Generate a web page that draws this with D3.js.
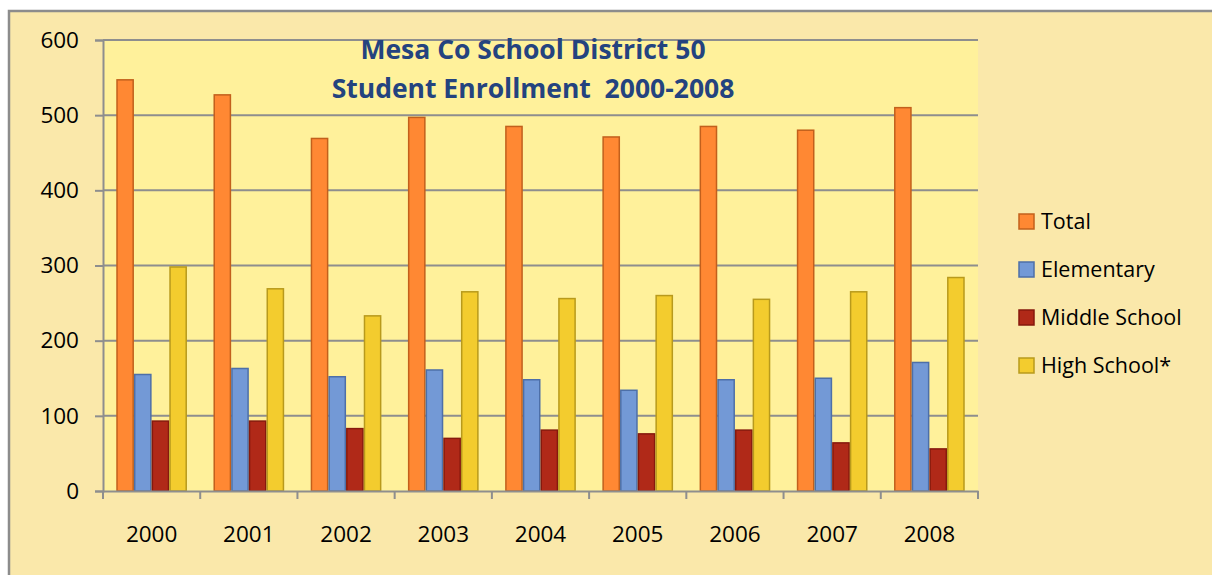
<!DOCTYPE html>
<html>
<head>
<meta charset="utf-8">
<script src="https://cdn.jsdelivr.net/npm/d3@7/dist/d3.min.js"></script>
<style>
  html, body { margin: 0; padding: 0; background: #ffffff; }
  svg { display: block; }
  text { font-family: "Open Sans", "DejaVu Sans", sans-serif; }
</style>
</head>
<body>
<svg id="chart" width="1212" height="575"></svg>
<script>
const years = ["2000","2001","2002","2003","2004","2005","2006","2007","2008"];
const seriesNames = ["Total","Elementary","Middle School","High School*"];
const total      = [547, 527, 469, 497, 485, 471, 485, 480, 510];
const elementary = [155, 163, 152, 161, 148, 134, 148, 150, 171];
const middle     = [93, 93, 83, 70, 81, 76, 81, 64, 56];
const high       = [298, 269, 233, 265, 256, 260, 255, 265, 284];
const yTicks = [0, 100, 200, 300, 400, 500, 600];
const titleLines = ["Mesa Co School District 50", "Student Enrollment  2000-2008"];

const fills   = ["#FF8833", "#7399D6", "#B02918", "#F3CC2E"];
const strokes = ["#C2601C", "#4D6FA8", "#86190D", "#B89A1C"];

const seriesValues = [total, elementary, middle, high];

const svg = d3.select("#chart");

// outer chart area
svg.append("rect")
  .attr("x", 9).attr("y", 11).attr("width", 1230).attr("height", 600)
  .attr("fill", "#FAE8AA").attr("stroke", "#8C8C8C").attr("stroke-width", 2.5);

const plot = {left: 103, right: 978, top: 40, bottom: 491};

const x0 = d3.scaleBand().domain(years).range([plot.left, plot.right]).paddingInner(0).paddingOuter(0);
const x1 = d3.scaleBand().domain(seriesNames).range([0, x0.bandwidth()]).paddingInner(0).paddingOuter(0.75);
const y = d3.scaleLinear().domain([0, 600]).range([plot.bottom, plot.top]);

// plot background
svg.append("rect")
  .attr("x", plot.left).attr("y", plot.top)
  .attr("width", plot.right - plot.left).attr("height", plot.bottom - plot.top)
  .attr("fill", "#FFF19B");

// gridlines
svg.append("g").selectAll("line").data(yTicks.filter(d => d > 0)).join("line")
  .attr("x1", plot.left).attr("x2", plot.right)
  .attr("y1", d => y(d)).attr("y2", d => y(d))
  .attr("stroke", "#8E8E8E").attr("stroke-width", 2);

// bars
const data = [];
years.forEach((yr, i) => {
  seriesNames.forEach((s, j) => {
    data.push({year: yr, series: s, value: seriesValues[j][i], idx: j});
  });
});

svg.append("g").selectAll("rect").data(data).join("rect")
  .attr("x", d => x0(d.year) + x1(d.series) + 0.75)
  .attr("y", d => y(d.value))
  .attr("width", x1.bandwidth() - 1.5)
  .attr("height", d => y(0) - y(d.value))
  .attr("fill", d => fills[d.idx])
  .attr("stroke", d => strokes[d.idx])
  .attr("stroke-width", 1.5);

// y axis
const yAxis = d3.axisLeft(y).tickValues(yTicks).tickSize(8).tickPadding(16).tickFormat(d3.format("d"));
const gy = svg.append("g").attr("transform", `translate(${plot.left},0)`).call(yAxis);
gy.select(".domain").attr("stroke", "#8E8E8E").attr("stroke-width", 2);
gy.selectAll(".tick line").attr("stroke", "#8E8E8E").attr("stroke-width", 2);
gy.selectAll(".tick text").attr("fill", "#000").style("font-size", "22.5px").style("font-family", "'Open Sans', sans-serif");

// x axis
const xAxis = d3.axisBottom(x0).tickSize(0).tickPadding(35);
const gx = svg.append("g").attr("transform", `translate(0,${plot.bottom})`).call(xAxis);
gx.select(".domain").attr("stroke", "#8E8E8E").attr("stroke-width", 2);
gx.selectAll(".tick text").attr("fill", "#000").style("font-size", "22.5px").style("font-family", "'Open Sans', sans-serif");
// category boundary tick marks
const boundaries = years.map(yr => x0(yr)).concat([plot.right]);
svg.append("g").selectAll("line").data(boundaries).join("line")
  .attr("x1", d => d).attr("x2", d => d)
  .attr("y1", plot.bottom).attr("y2", plot.bottom + 8)
  .attr("stroke", "#8E8E8E").attr("stroke-width", 2);

// title
const title = svg.append("g");
title.selectAll("text").data(titleLines).join("text")
  .attr("x", 533).attr("y", (d, i) => 59 + i * 39)
  .attr("text-anchor", "middle")
  .attr("fill", "#24437F")
  .style("font-weight", "bold")
  .style("font-size", "26.5px")
  .style("white-space", "pre")
  .attr("xml:space", "preserve")
  .text(d => d);

// legend
const legend = svg.append("g").selectAll("g").data(seriesNames).join("g")
  .attr("transform", (d, i) => `translate(1019, ${214 + i * 48})`);
legend.append("rect")
  .attr("width", 15).attr("height", 15)
  .attr("fill", (d, i) => fills[i]).attr("stroke", (d, i) => strokes[i]).attr("stroke-width", 1.5);
legend.append("text")
  .attr("x", 22).attr("y", 15)
  .attr("fill", "#000")
  .style("font-size", "21.5px")
  .text(d => d);
</script>
</body>
</html>
